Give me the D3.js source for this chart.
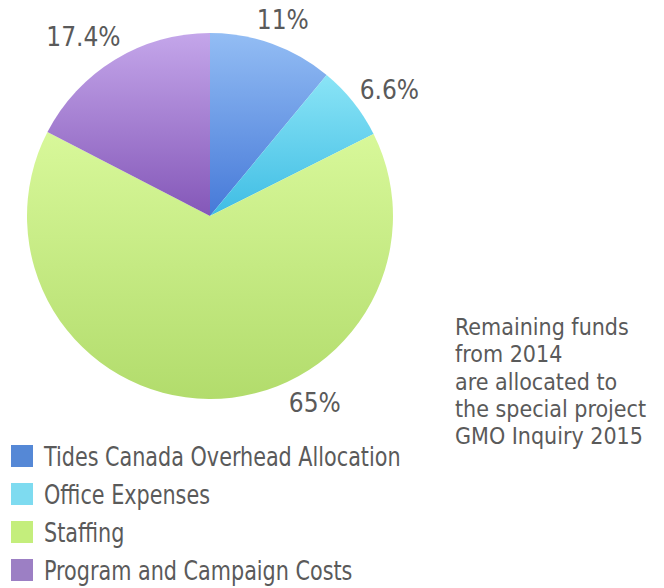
<!DOCTYPE html>
<html>
<head>
<meta charset="utf-8">
<script src="https://cdn.jsdelivr.net/npm/d3@7"></script>
<style>
  body { margin: 0; background: #fff; }
  text { font-family: "DejaVu Sans Condensed", "Liberation Sans Narrow", "Roboto", sans-serif; fill: #5a5a5a; }
</style>
</head>
<body>
<script>
let width = 664
let height = 588

let categories = ["Tides Canada Overhead Allocation", "Office Expenses", "Staffing", "Program and Campaign Costs"]
let values = [11, 6.6, 65, 17.4]
let labels = ["11%", "6.6%", "65%", "17.4%"]
let note = ["Remaining funds", "from 2014", "are allocated to", "the special project", "GMO Inquiry 2015"]

// light / dark ends of each slice gradient, plus flat legend colour
let topColors = ["#93bdf4", "#8ae4f6", "#d8f89a", "#c4a6ea"]
let bottomColors = ["#4679d8", "#3fbde4", "#b2dc6c", "#8457b8"]
let legendColors = ["#5588d6", "#7edbf0", "#c4ee7c", "#9c7fc4"]

let cx = 210, cy = 216, radius = 183

let svg = d3.select("body").append("svg")
    .attr("width", width)
    .attr("height", height)

let defs = svg.append("defs")
categories.forEach((c, i) => {
    let g = defs.append("linearGradient")
        .attr("id", "grad" + i)
        .attr("x1", 0).attr("y1", 0).attr("x2", 0).attr("y2", 1)
    g.append("stop").attr("offset", "0%").attr("stop-color", topColors[i])
    g.append("stop").attr("offset", "100%").attr("stop-color", bottomColors[i])
})

let pie = d3.pie().sort(null).value(d => d)
let arcs = pie(values)

let arc = d3.arc().innerRadius(0).outerRadius(radius)

let g = svg.append("g").attr("transform", "translate(" + cx + "," + cy + ")")

g.selectAll(".slice")
    .data(arcs)
    .enter()
    .append("path")
    .attr("class", "slice")
    .attr("d", arc)
    .attr("fill", (d, i) => "url(#grad" + i + ")")

// labels sit outside the rim, nudged off the mid angle like the original
let nudge = [0.6, 3.5, -29.7, -4]
let labelR = [209, 219, 214, 219]
let labelPos = (d, i) => {
    let a = (d.startAngle + d.endAngle) / 2 + nudge[i] * Math.PI / 180
    return [Math.sin(a) * labelR[i], -Math.cos(a) * labelR[i]]
}

g.selectAll(".label")
    .data(arcs)
    .enter()
    .append("text")
    .attr("class", "label")
    .attr("x", (d, i) => labelPos(d, i)[0])
    .attr("y", (d, i) => labelPos(d, i)[1] + 9)
    .attr("text-anchor", "middle")
    .attr("font-size", 26)
    .text((d, i) => labels[i])

let legend = svg.append("g").attr("transform", "translate(11,445)")
let row = legend.selectAll(".row")
    .data(categories)
    .enter()
    .append("g")
    .attr("class", "row")
    .attr("transform", (d, i) => "translate(0," + i * 38 + ")")

row.append("rect")
    .attr("width", 22)
    .attr("height", 22)
    .attr("fill", (d, i) => legendColors[i])

row.append("text")
    .attr("transform", "translate(33,21) scale(0.887,1)")
    .attr("font-size", 26)
    .text(d => d)

svg.append("g")
    .selectAll("text")
    .data(note)
    .enter()
    .append("text")
    .attr("x", 455)
    .attr("y", (d, i) => 335 + i * 27.3)
    .attr("font-size", 23)
    .text(d => d)
</script>
</body>
</html>
